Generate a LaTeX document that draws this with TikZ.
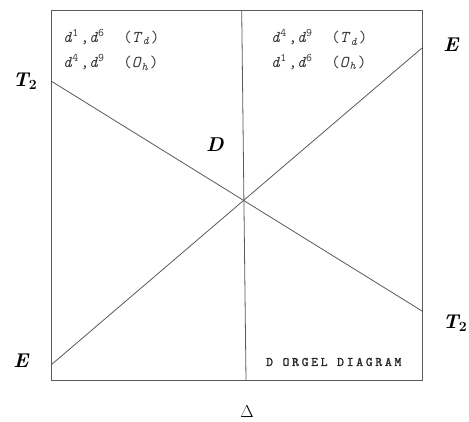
\documentclass[tikz,border=0pt]{standalone}
\usepackage{fontspec}
\newfontfamily\titlefont{lmmono10-regular.otf}[LetterSpace=21,FakeBold=1.5]
\newcommand{\dd}[1]{\textit{d}\makebox[0.5em][l]{\textsuperscript{\upshape #1}}}
\newcommand{\symsub}[2]{\textit{#1}\makebox[0.5em][l]{\textsubscript{\textit{#2}}}}
\begin{document}
\begin{tikzpicture}[x=1pt,y=-1pt,
  frame/.style={draw=black!65, line width=0.9pt},
  level/.style={draw=black!65, line width=0.8pt},
  mono/.style={font=\ttfamily\fontsize{16.5}{18}\selectfont, text=black!80, inner sep=0pt, anchor=west},
  term/.style={font=\bfseries\itshape\fontsize{20}{22}\selectfont, inner sep=0pt},
  delta/.style={font=\fontsize{17}{18}\selectfont, inner sep=0pt}]
\useasboundingbox (0,0) rectangle (469,422);
\draw[frame] (51,10) rectangle (422,380);
\coordinate (vtop) at (241.7,10);
\coordinate (vbot) at (246,380);
\coordinate (t2l) at (51,81);
\coordinate (t2r) at (422,311);
\coordinate (el) at (51,365);
\coordinate (er) at (422,48);
\draw[level] (vtop) -- (vbot);
\draw[level] (t2l) -- (t2r);
\draw[level] (el) -- (er);
\node[term] (T2L) at (25,81) {T\textsubscript{\upshape 2}};
\node[term] (ER) at (451,45) {E};
\node[term] (T2R) at (455,323) {T\textsubscript{\upshape 2}};
\node[term] (EL) at (21,361) {E};
\node[term] (D) at (215,145) {D};
\node[delta] (Delta) at (247,412) {$\Delta$};
\node[mono] (l1) at (63,37) {\dd{1},\dd{6}\ \ (\symsub{T}{d})};
\node[mono] (l2) at (63,62) {\dd{4},\dd{9}\ \ (\symsub{O}{h})};
\node[mono] (r1) at (271,37) {\dd{4},\dd{9}\ \ (\symsub{T}{d})};
\node[mono] (r2) at (271,62) {\dd{1},\dd{6}\ \ (\symsub{O}{h})};
\node[mono, font=\titlefont\fontsize{13}{15}\selectfont, text=black!85] (title) at (266,362) {D ORGEL DIAGRAM};
\end{tikzpicture}
\end{document}
